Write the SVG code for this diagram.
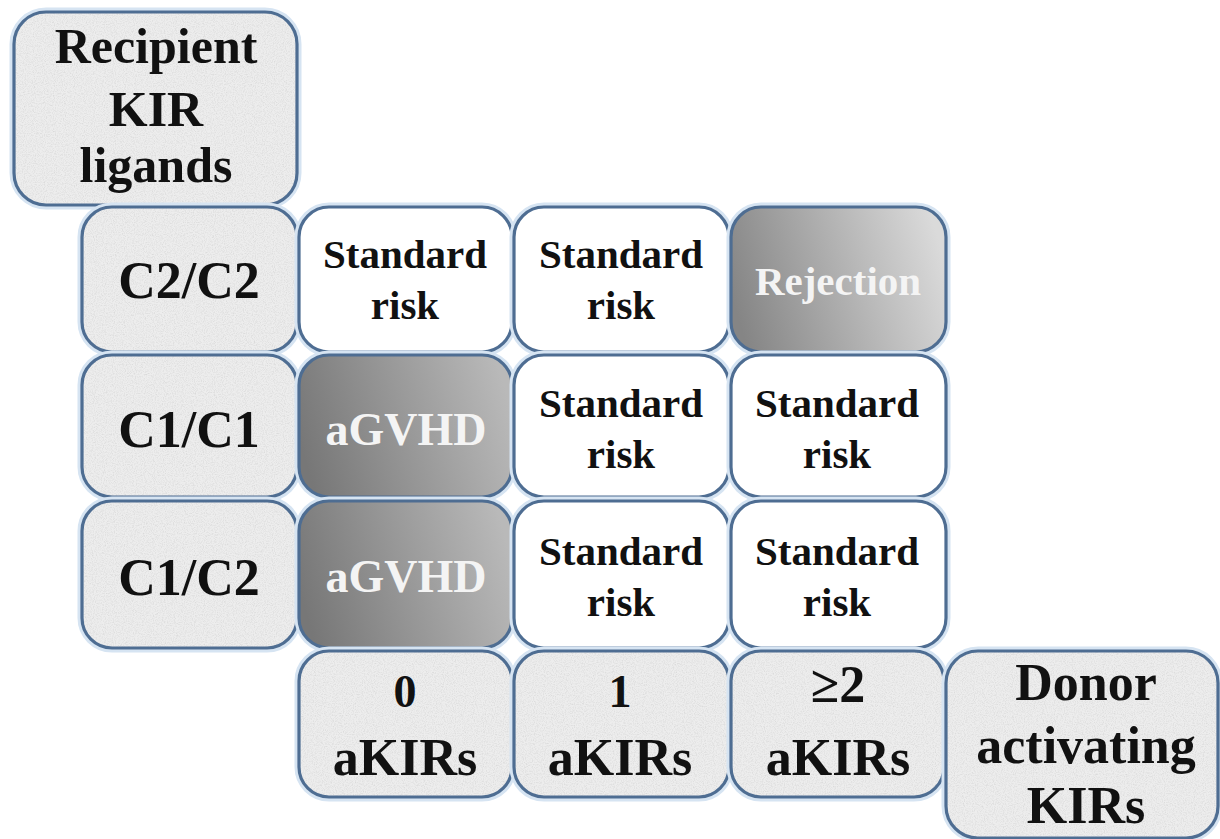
<svg xmlns="http://www.w3.org/2000/svg" width="1220" height="839" viewBox="0 0 1220 839">
<defs>
<filter id="grain" x="0" y="0" width="100%" height="100%">
<feTurbulence type="fractalNoise" baseFrequency="0.9" numOctaves="2" seed="4" result="n"/>
<feColorMatrix in="n" type="matrix" values="0 0 0 0 0.6  0 0 0 0 0.6  0 0 0 0 0.6  1.2 0 0 0 -0.5" result="s"/>
<feComposite in="s" in2="SourceGraphic" operator="in"/>
</filter>
<linearGradient id="gv" x1="0" y1="0.6" x2="1" y2="0.4">
<stop offset="0" stop-color="#777777"/>
<stop offset="1" stop-color="#b9b9b9"/>
</linearGradient>
<linearGradient id="rj" x1="0" y1="0.6" x2="1" y2="0.4">
<stop offset="0" stop-color="#858585"/>
<stop offset="1" stop-color="#dadada"/>
</linearGradient>
</defs>
<style>
.halo{fill:none;stroke:#d6e4f2;stroke-width:9;}
.lab{fill:#ededed;}
.noise{fill:#000;filter:url(#grain);}
.edge{fill:none;stroke:#4e6d92;stroke-width:3.2;}
.wh{fill:#ffffff;}
text{font-family:"Liberation Serif","Times New Roman",serif;font-weight:bold;text-anchor:middle;fill:#111;}
.t52{font-size:52px;}
.t50{font-size:50px;}
.t41{font-size:41px;}
.t46{font-size:46px;}
.lt{fill:#f4f4f4;}
</style>
<rect width="1220" height="839" fill="#ffffff"/>

<g id="recipient-label">
<rect class="halo" x="14" y="12" width="283" height="193" rx="32"/>
<rect class="lab" x="14" y="12" width="283" height="193" rx="32"/>
<rect class="noise" x="14" y="12" width="283" height="193" rx="32"/>
<rect class="edge" x="14" y="12" width="283" height="193" rx="32"/>
<text class="t50" x="156" y="63">Recipient</text>
<text class="t50" x="156" y="126">KIR</text>
<text class="t50" x="156" y="182">ligands</text>
</g>

<g id="row-c2c2">
<rect class="halo" x="82" y="207" width="215" height="145" rx="30"/>
<rect class="lab" x="82" y="207" width="215" height="145" rx="30"/>
<rect class="noise" x="82" y="207" width="215" height="145" rx="30"/>
<rect class="edge" x="82" y="207" width="215" height="145" rx="30"/>
<text class="t52" x="189" y="298">C2/C2</text>
</g>
<g id="row-c1c1">
<rect class="halo" x="82" y="355" width="215" height="142" rx="30"/>
<rect class="lab" x="82" y="355" width="215" height="142" rx="30"/>
<rect class="noise" x="82" y="355" width="215" height="142" rx="30"/>
<rect class="edge" x="82" y="355" width="215" height="142" rx="30"/>
<text class="t52" x="189" y="447">C1/C1</text>
</g>
<g id="row-c1c2">
<rect class="halo" x="82" y="501" width="215" height="147" rx="30"/>
<rect class="lab" x="82" y="501" width="215" height="147" rx="30"/>
<rect class="noise" x="82" y="501" width="215" height="147" rx="30"/>
<rect class="edge" x="82" y="501" width="215" height="147" rx="30"/>
<text class="t52" x="189" y="595">C1/C2</text>
</g>

<g id="c2c2-0">
<rect class="halo" x="299" y="207" width="213" height="145" rx="30"/>
<rect class="wh" x="299" y="207" width="213" height="145" rx="30"/>
<rect class="edge" x="299" y="207" width="213" height="145" rx="30"/>
<text class="t41" x="405" y="268">Standard</text>
<text class="t41" x="405" y="319">risk</text>
</g>
<g id="c2c2-1">
<rect class="halo" x="514" y="207" width="215" height="145" rx="30"/>
<rect class="wh" x="514" y="207" width="215" height="145" rx="30"/>
<rect class="edge" x="514" y="207" width="215" height="145" rx="30"/>
<text class="t41" x="621" y="268">Standard</text>
<text class="t41" x="621" y="319">risk</text>
</g>
<g id="c2c2-2">
<rect class="halo" x="731" y="207" width="215" height="145" rx="30"/>
<rect x="731" y="207" width="215" height="145" rx="30" fill="url(#rj)"/>
<rect class="edge" x="731" y="207" width="215" height="145" rx="30"/>
<text class="t41 lt" x="838" y="295">Rejection</text>
</g>

<g id="c1c1-0">
<rect class="halo" x="299" y="355" width="213" height="142" rx="30"/>
<rect x="299" y="355" width="213" height="142" rx="30" fill="url(#gv)"/>
<rect class="edge" x="299" y="355" width="213" height="142" rx="30"/>
<text class="t46 lt" x="406" y="445">aGVHD</text>
</g>
<g id="c1c1-1">
<rect class="halo" x="514" y="355" width="215" height="142" rx="30"/>
<rect class="wh" x="514" y="355" width="215" height="142" rx="30"/>
<rect class="edge" x="514" y="355" width="215" height="142" rx="30"/>
<text class="t41" x="621" y="417">Standard</text>
<text class="t41" x="621" y="468">risk</text>
</g>
<g id="c1c1-2">
<rect class="halo" x="731" y="355" width="215" height="142" rx="30"/>
<rect class="wh" x="731" y="355" width="215" height="142" rx="30"/>
<rect class="edge" x="731" y="355" width="215" height="142" rx="30"/>
<text class="t41" x="837" y="417">Standard</text>
<text class="t41" x="837" y="468">risk</text>
</g>

<g id="c1c2-0">
<rect class="halo" x="299" y="501" width="213" height="147" rx="30"/>
<rect x="299" y="501" width="213" height="147" rx="30" fill="url(#gv)"/>
<rect class="edge" x="299" y="501" width="213" height="147" rx="30"/>
<text class="t46 lt" x="406" y="592">aGVHD</text>
</g>
<g id="c1c2-1">
<rect class="halo" x="514" y="501" width="215" height="147" rx="30"/>
<rect class="wh" x="514" y="501" width="215" height="147" rx="30"/>
<rect class="edge" x="514" y="501" width="215" height="147" rx="30"/>
<text class="t41" x="621" y="565">Standard</text>
<text class="t41" x="621" y="616">risk</text>
</g>
<g id="c1c2-2">
<rect class="halo" x="731" y="501" width="215" height="147" rx="30"/>
<rect class="wh" x="731" y="501" width="215" height="147" rx="30"/>
<rect class="edge" x="731" y="501" width="215" height="147" rx="30"/>
<text class="t41" x="837" y="565">Standard</text>
<text class="t41" x="837" y="616">risk</text>
</g>

<g id="col-0">
<rect class="halo" x="299" y="651" width="213" height="146" rx="30"/>
<rect class="lab" x="299" y="651" width="213" height="146" rx="30"/>
<rect class="noise" x="299" y="651" width="213" height="146" rx="30"/>
<rect class="edge" x="299" y="651" width="213" height="146" rx="30"/>
<text class="t46" x="405" y="707">0</text>
<text class="t52" x="405" y="775">aKIRs</text>
</g>
<g id="col-1">
<rect class="halo" x="514" y="651" width="215" height="146" rx="30"/>
<rect class="lab" x="514" y="651" width="215" height="146" rx="30"/>
<rect class="noise" x="514" y="651" width="215" height="146" rx="30"/>
<rect class="edge" x="514" y="651" width="215" height="146" rx="30"/>
<text class="t46" x="620" y="707">1</text>
<text class="t52" x="620" y="775">aKIRs</text>
</g>
<g id="col-2">
<rect class="halo" x="731" y="651" width="213" height="146" rx="30"/>
<rect class="lab" x="731" y="651" width="213" height="146" rx="30"/>
<rect class="noise" x="731" y="651" width="213" height="146" rx="30"/>
<rect class="edge" x="731" y="651" width="213" height="146" rx="30"/>
<text class="t52" x="838" y="702">≥2</text>
<text class="t52" x="838" y="775">aKIRs</text>
</g>
<g id="donor-label">
<rect class="halo" x="946" y="651" width="272" height="187" rx="32"/>
<rect class="lab" x="946" y="651" width="272" height="187" rx="32"/>
<rect class="noise" x="946" y="651" width="272" height="187" rx="32"/>
<rect class="edge" x="946" y="651" width="272" height="187" rx="32"/>
<text class="t52" x="1086" y="700">Donor</text>
<text class="t52" x="1086" y="763">activating</text>
<text class="t52" x="1086" y="823">KIRs</text>
</g>
</svg>
